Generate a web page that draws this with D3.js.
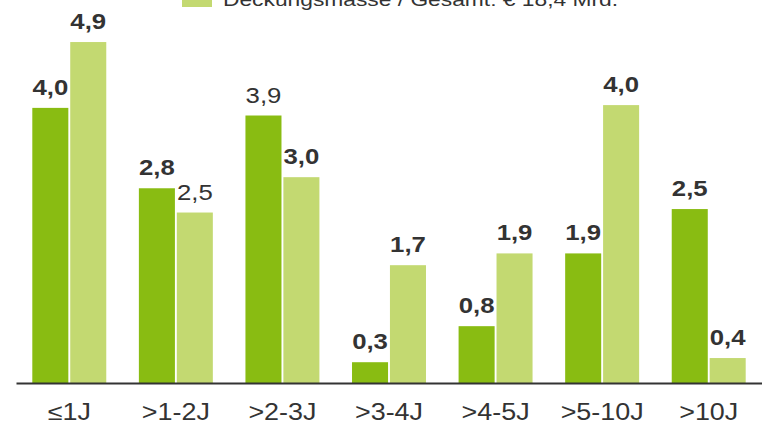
<!DOCTYPE html>
<html>
<head>
<meta charset="utf-8">
<script src="https://cdn.jsdelivr.net/npm/d3@7"></script>
<style>
  body { margin: 0; background: #fff; }
  svg { display: block; font-family: "Liberation Sans", Arial, sans-serif; }
</style>
</head>
<body>
<svg id="chart" width="762" height="424"></svg>
<script>
// data (bar heights estimated, labels rounded to one decimal)
const categories = ["≤1J", ">1-2J", ">2-3J", ">3-4J", ">4-5J", ">5-10J", ">10J"]
const seriesNames = ["Hypothekenpfandbriefe", "Deckungsmasse / Gesamt: € 18,4 Mrd."]
const pfandbriefe = [3.97, 2.81, 3.86, 0.30, 0.82, 1.87, 2.51]
const deckung = [4.92, 2.46, 2.97, 1.70, 1.87, 4.01, 0.36]
// which labels are shown bold
const boldPfandbriefe = [true, true, false, true, true, true, true]
const boldDeckung = [true, false, true, true, true, true, true]

var dimensions = {
    width: 762,
    height: 424,
    margin: { top: 36.5, bottom: 41, left: 16, right: 0 }
}
const colors = ["#89bc12", "#c3d971"]
// the original's text is drawn a bit wider than the font
const stretch = 1.2

const rows = categories.map((c, i) => ({
    cat: c,
    values: [
        { key: 0, v: pfandbriefe[i], bold: boldPfandbriefe[i] },
        { key: 1, v: deckung[i], bold: boldDeckung[i] }
    ]
}))

var svg = d3.select("#chart")

var x0 = d3.scaleBand()
           .domain(categories)
           .range([dimensions.margin.left, dimensions.width - dimensions.margin.right])
           .paddingInner(0.306)
           .paddingOuter(0.153)

var x1 = d3.scaleBand()
           .domain([0, 1])
           .range([0, x0.bandwidth()])
           .paddingInner(0.05)

var yScale = d3.scaleLinear()
               .domain([0, 5])
               .range([dimensions.height - dimensions.margin.bottom, dimensions.margin.top])

// legend (mostly cut off at the top in the original)
var legend = svg.append("g")
legend.append("rect")
      .attr("x", 182).attr("y", -16)
      .attr("width", 30).attr("height", 23)
      .attr("fill", colors[1])
legend.append("text")
      .attr("transform", `translate(223,6) scale(${stretch},1)`)
      .attr("fill", "#333")
      .style("font-size", "19px")
      .text(seriesNames[1])

var groups = svg.append("g")
                .selectAll("g")
                .data(rows)
                .enter()
                .append("g")
                .attr("transform", d => `translate(${x0(d.cat)},0)`)

groups.selectAll("rect")
      .data(d => d.values)
      .enter()
      .append("rect")
      .attr("x", d => x1(d.key))
      .attr("y", d => yScale(d.v))
      .attr("width", x1.bandwidth())
      .attr("height", d => yScale(0) - yScale(d.v))
      .attr("fill", d => colors[d.key])

groups.selectAll("text")
      .data(d => d.values)
      .enter()
      .append("text")
      .attr("transform", d => `translate(${x1(d.key) + x1.bandwidth() / 2},${yScale(d.v) - 13}) scale(1.12,1)`)
      .attr("text-anchor", "middle")
      .attr("fill", "#333")
      .style("font-size", "23px")
      .style("font-weight", d => d.bold ? "bold" : "normal")
      .text(d => d3.format(".1f")(d.v).replace(".", ","))

var xAxisGen = d3.axisBottom().scale(x0).tickSize(0)

var xAxis = svg.append("g")
               .attr("transform", `translate(0, ${yScale(0)})`)
               .call(xAxisGen)

xAxis.select(".domain")
     .attr("stroke", "#333")
     .attr("stroke-width", 2)
xAxis.selectAll("text")
     .attr("y", 0)
     .attr("dy", 0)
     .attr("transform", `translate(0,37) scale(1.17,1)`)
     .attr("fill", "#333")
     .style("font-size", "23px")
     .style("font-family", "'Liberation Sans', Arial, sans-serif")
</script>
</body>
</html>
